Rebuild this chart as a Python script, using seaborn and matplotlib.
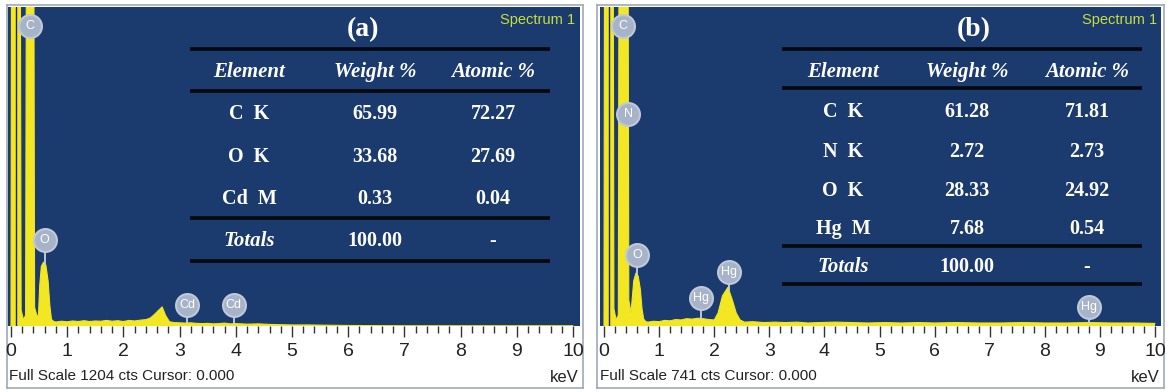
import numpy as np
import matplotlib
matplotlib.use("Agg")
import matplotlib.pyplot as plt
import seaborn as sns
from matplotlib.ticker import MultipleLocator

# ---- spectrum (a): energy (keV) and counts ----
energy_a = [0.00, 0.02, 0.15, 0.18, 0.22, 0.26, 0.29, 0.39, 0.42, 0.47, 0.49, 0.51, 0.54,
            0.58, 0.62, 0.66, 0.69, 0.72, 0.76, 0.80, 0.90, 1.00, 1.10, 1.20, 1.30, 1.40,
            1.50, 1.60, 1.70, 1.80, 1.90, 2.00, 2.10, 2.20, 2.30, 2.40, 2.48, 2.56, 2.62,
            2.69, 2.75, 2.82, 2.90, 3.00, 3.10, 3.20, 3.30, 3.40, 3.50, 3.60, 3.70, 3.80,
            3.90, 4.00, 4.20, 4.40, 4.60, 4.80, 5.00, 5.30, 5.60, 6.00, 7.00, 8.00, 9.00,
            10.00]
counts_a = [0, 3000, 3000, 60, 24, 40, 3000, 3000, 70, 32, 45, 150, 225,
            241, 230, 170, 80, 25, 17, 15, 18, 16, 19, 17, 20, 17,
            19, 18, 21, 18, 20, 17, 21, 19, 22, 24, 30, 45, 58,
            72, 40, 16, 13, 12, 11, 12, 10, 9, 10, 8, 9, 11,
            8, 9, 7, 8, 6, 5, 4, 4, 3, 2, 1, 1, 1,
            1]

# ---- spectrum (b) ----
energy_b = [0.00, 0.02, 0.15, 0.18, 0.22, 0.26, 0.29, 0.42, 0.45, 0.49, 0.51, 0.54, 0.58,
            0.62, 0.66, 0.69, 0.72, 0.76, 0.80, 0.90, 1.00, 1.10, 1.20, 1.30, 1.40, 1.50,
            1.60, 1.70, 1.80, 1.90, 2.00, 2.07, 2.15, 2.25, 2.33, 2.40, 2.47, 2.55, 2.70,
            2.90, 3.10, 3.30, 3.50, 3.70, 3.90, 4.20, 4.50, 4.80, 5.10, 5.40, 5.70, 6.00,
            6.40, 6.80, 7.20, 7.60, 8.00, 8.40, 8.80, 9.20, 9.60, 10.00]
counts_b = [0, 2000, 2000, 40, 14, 25, 2000, 2000, 60, 30, 60, 105, 123,
            116, 85, 40, 16, 10, 9, 11, 10, 13, 12, 15, 14, 17,
            16, 18, 17, 15, 14, 30, 70, 90, 60, 30, 14, 9, 10,
            8, 9, 8, 9, 7, 8, 9, 8, 7, 8, 7, 8, 7,
            8, 7, 7, 8, 7, 7, 8, 7, 7, 6]

full_scale_a = 1204
full_scale_b = 741

# ---- element markers: label, energy (keV), counts at circle ----
marker_labels_a = ["C", "O", "Cd", "Cd"]
marker_energy_a = [0.34, 0.60, 3.14, 3.96]
marker_counts_a = [1132, 323, 79, 79]

marker_labels_b = ["C", "N", "O", "Hg", "Hg", "Hg"]
marker_energy_b = [0.35, 0.44, 0.60, 1.76, 2.27, 8.80]
marker_counts_b = [697, 493, 164, 65, 125, 44]

# ---- quantification tables ----
table_columns = ["Element", "Weight %", "Atomic %"]
elements_a = ["C  K", "O  K", "Cd  M"]
weight_a = ["65.99", "33.68", "0.33"]
atomic_a = ["72.27", "27.69", "0.04"]
elements_b = ["C  K", "N  K", "O  K", "Hg  M"]
weight_b = ["61.28", "2.72", "28.33", "7.68"]
atomic_b = ["71.81", "2.73", "24.92", "0.54"]
totals_row = ["Totals", "100.00", "-"]

W, H = 1167, 392
BLUE = "#1b3a6d"
YELLOW = "#f2e722"
MARK = "#a7b3c9"

sns.set_style("white")
plt.rcParams["font.family"] = ["Liberation Sans Narrow", "Liberation Sans", "DejaVu Sans"]

fig = plt.figure(figsize=(W / 100, H / 100), dpi=100)


def px_axes(x0, y0, x1, y1, **kw):
    return fig.add_axes([x0 / W, 1 - y1 / H, (x1 - x0) / W, (y1 - y0) / H], **kw)


def draw_panel(box, blue, zero_px, ten_px, energy, counts, full_scale,
               m_lab, m_en, m_ct):
    bg = px_axes(*box)
    bg.set_facecolor("white")
    bg.set_xticks([])
    bg.set_yticks([])
    for s in bg.spines.values():
        s.set_color("#9ea9b8")
        s.set_linewidth(1.2)

    ax = px_axes(*blue)
    ax.set_facecolor(BLUE)
    per_kev = (ten_px - zero_px) / 10.0
    ax.set_xlim((blue[0] - zero_px) / per_kev, (blue[2] - zero_px) / per_kev)
    ax.set_ylim(0, full_scale)
    ax.fill_between(energy, counts, color=YELLOW, lw=0)
    sns.lineplot(x=energy, y=counts, ax=ax, color=YELLOW, lw=0.8, sort=False)
    # cursor line
    ax.axvline(0.085, color="#1a2433", lw=1.0)

    spec_at = np.interp(m_en, energy, counts)
    for lab, e, c, s in zip(m_lab, m_en, m_ct, spec_at):
        if s < c:
            ax.plot([e, e], [s, c], color="#c9d1de", lw=1.3, zorder=4)
        ax.plot(e, c, "o", ms=16.5, mfc=MARK, mec="#c0c9d8", mew=1.5, zorder=5)
        ax.text(e, c, lab, color="white", fontsize=9, ha="center", va="center",
                zorder=6, family=["Liberation Sans", "DejaVu Sans"])

    ax.set_yticks([])
    ax.set_xticks(range(0, 11))
    ax.xaxis.set_minor_locator(MultipleLocator(0.2))
    ax.tick_params(axis="x", which="major", direction="out", length=8, width=1,
                   color="#333333", labelsize=14, pad=4, labelcolor="#222222",
                   bottom=True)
    ax.tick_params(axis="x", which="minor", direction="out", length=5, width=1,
                   color="#333333", bottom=True)
    for s in ax.spines.values():
        s.set_visible(False)
    return ax


ax_a = draw_panel((7, 5, 583, 388), (8, 7, 580, 326), 11, 573,
                  energy_a, counts_a, full_scale_a,
                  marker_labels_a, marker_energy_a, marker_counts_a)
ax_b = draw_panel((597, 5, 1164, 388), (600, 7, 1161, 326), 604, 1155,
                  energy_b, counts_b, full_scale_b,
                  marker_labels_b, marker_energy_b, marker_counts_b)

# overlay in pixel coordinates for the tables and captions
ov = fig.add_axes([0, 0, 1, 1], facecolor="none")
ov.set_xlim(0, W)
ov.set_ylim(H, 0)
ov.axis("off")

serif = ["Liberation Serif", "DejaVu Serif"]


def draw_table(tag, tag_x, col_x, line_x, line_y, header_y, row_y, totals_y,
               elements, weight, atomic, spec_right):
    ov.text(tag_x, 30, tag, color="white", fontsize=20, fontweight="bold",
            ha="center", va="center", family=serif)
    for yy in line_y:
        ov.plot(line_x, [yy, yy], color="#05080f", lw=2.6, solid_capstyle="butt")
    for cx, name in zip(col_x, table_columns):
        ov.text(cx, header_y, name, color="white", fontsize=15, fontweight="bold",
                style="italic", ha="center", va="center", family=serif)
    for yy, el, w, at in zip(row_y, elements, weight, atomic):
        for cx, t in zip(col_x, [el, w, at]):
            ov.text(cx, yy, t, color="white", fontsize=14.5, fontweight="bold",
                    ha="center", va="center", family=serif)
    for i, (cx, t) in enumerate(zip(col_x, totals_row)):
        ov.text(cx, totals_y, t, color="white", fontsize=15 if i == 0 else 14.5,
                fontweight="bold", style="italic" if i == 0 else "normal",
                ha="center", va="center", family=serif)
    ov.text(spec_right, 20, "Spectrum 1", color="#c8df3a", fontsize=10.5,
            ha="right", va="center")


draw_table("(a)", 363, [249, 375, 493], [190, 550], [49, 91, 218, 261], 72,
           [114, 157, 199], 241, elements_a, weight_a, atomic_a, 575)
draw_table("(b)", 974, [843, 967, 1087], [782, 1142], [49, 88, 246, 284], 72,
           [112, 152, 191, 229], 267, elements_b, weight_b, atomic_b, 1157)

ov.text(9, 376, f"Full Scale {full_scale_a} cts Cursor: 0.000", fontsize=11,
        color="#222222", ha="left", va="center")
ov.text(579, 377, "keV", fontsize=12, color="#222222", ha="right", va="center")
ov.text(600, 376, f"Full Scale {full_scale_b} cts Cursor: 0.000", fontsize=11,
        color="#222222", ha="left", va="center")
ov.text(1160, 377, "keV", fontsize=12, color="#222222", ha="right", va="center")

fig.savefig("out.png", dpi=100)
